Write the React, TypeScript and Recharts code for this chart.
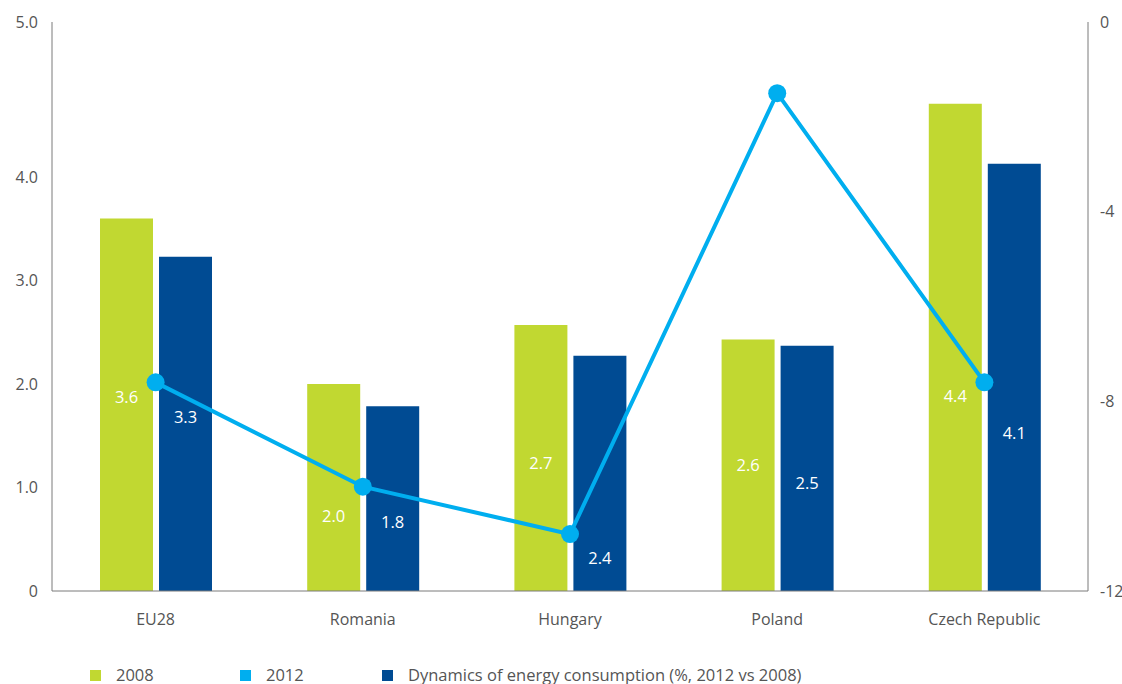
import { ComposedChart, Bar, Line, XAxis, YAxis, LabelList, Legend } from "recharts";

// values (bar heights follow the left scale, labels are the printed figures)
const countries = ["EU28", "Romania", "Hungary", "Poland", "Czech Republic"];
const v2008 = [3.6, 2.0, 2.57, 2.43, 4.71];
const v2012 = [3.23, 1.785, 2.275, 2.37, 4.13];
const labels2008 = ["3.6", "2.0", "2.7", "2.6", "4.4"];
const labels2012 = ["3.3", "1.8", "2.4", "2.5", "4.1"];
const dynamics = [-7.6, -9.8, -10.8, -1.5, -7.6];

const leftTicks = [0, 1, 2, 3, 4, 5.5];
const leftTickLabels = ["0", "1.0", "2.0", "3.0", "4.0", "5.0"];
const rightTicks = [-12, -8, -4, 0];

const LIME = "#c1d831";
const NAVY = "#004b93";
const CYAN = "#00aeef";
const TEXT = "#555";
const AXIS = "#7a7a7a";
const FONT = "'Open Sans', sans-serif";

// how far up each bar its figure sits (share of bar height), to dodge the line
const lift2008 = [0.52, 0.36, 0.48, 0.5, 0.4];
const lift2012 = [0.52, 0.375, 0.14, 0.44, 0.37];

const data = countries.map((c, i) => ({
  name: c,
  y2008: v2008[i],
  y2012: v2012[i],
  dyn: dynamics[i],
  l2008: labels2008[i],
  l2012: labels2012[i],
}));

function barLabel(texts: string[], lift: number[]) {
  return (props: any) => {
    const { x, y, width, height, index } = props;
    const cx = Number(x) + Number(width) / 2;
    const cy = Number(y) + Number(height) * (1 - lift[index]);
    return (
      <text x={cx} y={cy} dy="0.35em" textAnchor="middle" fill="#fff" fontSize={16.5} fontFamily={FONT}>
        {texts[index]}
      </text>
    );
  };
}

const legendItems = [
  { label: "2008", color: LIME, x: 90 },
  { label: "2012", color: CYAN, x: 240 },
  { label: "Dynamics of energy consumption (%, 2012 vs 2008)", color: NAVY, x: 382 },
];

function LegendContent() {
  return (
    <div style={{ position: "relative", height: 18, width: 1122 }}>
      {legendItems.map((it) => (
        <div
          key={it.label}
          style={{ position: "absolute", left: it.x, top: 0, display: "flex", alignItems: "center", height: 18 }}
        >
          <span style={{ width: 11, height: 11, background: it.color, display: "inline-block" }} />
          <span
            style={{ marginLeft: 15, color: TEXT, fontSize: 16.5, fontFamily: FONT, lineHeight: "18px", whiteSpace: "nowrap" }}
          >
            {it.label}
          </span>
        </div>
      ))}
    </div>
  );
}

export default function App() {
  return (
    <div style={{ position: "absolute", left: 0, top: 0, background: "#fff" }}>
      <ComposedChart
        width={1122}
        height={684}
        data={data}
        margin={{ top: 22, right: 0, bottom: 35, left: 0 }}
        barCategoryGap="23%"
        barGap={6}
      >
        <XAxis
          dataKey="name"
          height={40}
          tickSize={0}
          tickMargin={23}
          stroke={AXIS}
          tick={{ fill: TEXT, fontSize: 16, fontFamily: FONT }}
        />
        <YAxis
          yAxisId="left"
          width={52}
          domain={[0, 5.5]}
          ticks={leftTicks}
          tickFormatter={(v: number) => leftTickLabels[leftTicks.indexOf(v)] ?? String(v)}
          tickSize={0}
          tickMargin={14}
          stroke={AXIS}
          tick={{ fill: TEXT, fontSize: 16, fontFamily: FONT }}
          interval={0}
        />
        <YAxis
          yAxisId="right"
          orientation="right"
          width={34}
          domain={[-12, 0]}
          ticks={rightTicks}
          tickSize={0}
          tickMargin={12}
          stroke={AXIS}
          tick={{ fill: TEXT, fontSize: 16, fontFamily: FONT }}
          interval={0}
        />
        <Legend verticalAlign="bottom" wrapperStyle={{ left: 0, bottom: 0 }} content={<LegendContent />} />
        <Bar yAxisId="left" dataKey="y2008" fill={LIME} barSize={53} isAnimationActive={false} legendType="none">
          <LabelList dataKey="l2008" content={barLabel(labels2008, lift2008)} />
        </Bar>
        <Bar yAxisId="left" dataKey="y2012" fill={NAVY} barSize={53} isAnimationActive={false} legendType="none">
          <LabelList dataKey="l2012" content={barLabel(labels2012, lift2012)} />
        </Bar>
        <Line
          yAxisId="right"
          dataKey="dyn"
          stroke={CYAN}
          strokeWidth={4}
          dot={{ r: 9, fill: CYAN, stroke: CYAN, strokeWidth: 0 }}
          activeDot={false}
          isAnimationActive={false}
          legendType="none"
        />
      </ComposedChart>
    </div>
  );
}
